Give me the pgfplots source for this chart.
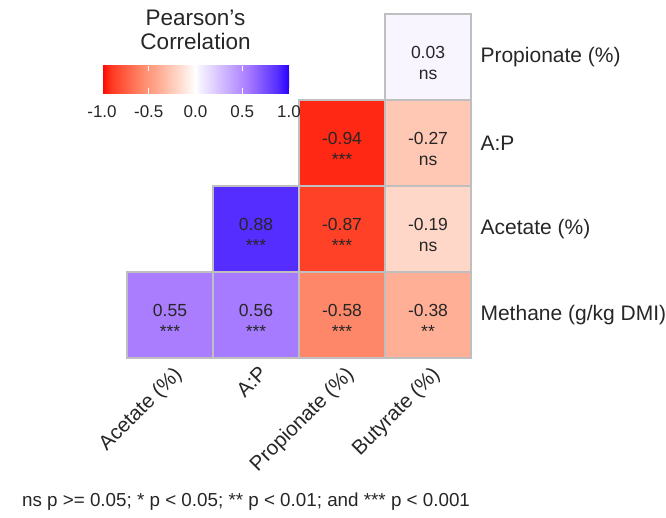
\documentclass[border=0pt]{standalone}
\usepackage{fontspec}
\setmainfont{Liberation Sans}
\usepackage{pgfplots}
\usepackage{pgfplotstable}
\pgfplotsset{compat=1.18}

\pgfplotstableread{
x y c lab sig
3 3 0.03 0.03 ns
2 2 -0.94 -0.94 ***
3 2 -0.27 -0.27 ns
1 1 0.88 0.88 ***
2 1 -0.87 -0.87 ***
3 1 -0.19 -0.19 ns
0 0 0.55 0.55 ***
1 0 0.56 0.56 ***
2 0 -0.58 -0.58 ***
3 0 -0.38 -0.38 **
}\corrdata

\begin{document}
\begin{tikzpicture}
\begin{axis}[
  x=86pt, y=86pt,
  xmin=-0.5, xmax=3.5, ymin=-0.5, ymax=3.5,
  clip=false,
  axis line style={draw=none},
  tick style={draw=none},
  xtick={0,1,2,3},
  ytick={0,1,2,3},
  xticklabels={Acetate (\%), A:P, Propionate (\%), Butyrate (\%)},
  yticklabels={Methane (g/kg DMI), Acetate (\%), A:P, Propionate (\%)},
  yticklabel pos=right,
  xticklabel style={rotate=45, anchor=north east, font=\fontsize{20.5}{21}\selectfont, text=black!85, yshift=-3pt},
  yticklabel style={anchor=west, font=\fontsize{21}{22}\selectfont, text=black!85, xshift=6pt},
  colormap={corr}{
    rgb255(0cm)=(255,0,0);
    rgb255(6cm)=(255,40,20);
    rgb255(13cm)=(255,65,40);
    rgb255(42cm)=(255,135,105);
    rgb255(62cm)=(255,175,150);
    rgb255(73cm)=(255,200,180);
    rgb255(81cm)=(255,215,200);
    rgb255(100cm)=(255,255,255);
    rgb255(103cm)=(248,245,255);
    rgb255(155cm)=(170,125,255);
    rgb255(188cm)=(85,45,255);
    rgb255(200cm)=(40,0,255)
  },
  point meta min=-1, point meta max=1,
  colorbar horizontal,
  colorbar/width=28pt,
  colorbar style={
    at={(parent axis.north west)}, anchor=north west,
    xshift=-25pt, yshift=-43pt,
    width=187pt, height=28pt,
    axis line style={draw=none},
    xtick={-1,-0.5,0,0.5,1},
    xticklabels={-1.0,-0.5,0.0,0.5,1.0},
    xtick pos=both, xticklabel pos=lower,
    tick align=inside,
    major tick length=5.5pt,
    tick style={draw=white, line width=1pt},
    xticklabel style={font=\fontsize{17}{17}\selectfont, text=black!85, yshift=-9pt},
    title={Pearson\symbol{39}s\\Correlation},
    title style={align=center, font=\fontsize{22.5}{24}\selectfont, text=black!85, at={(0.5,1)}, anchor=south, yshift=6pt},
  },
]
\addplot[
  scatter, only marks, mark=square*, mark size=43pt,
  point meta=explicit,
  scatter/use mapped color={draw=gray!50, fill=mapped color, line width=1.5pt},
] table[x=x, y=y, meta=c] {\corrdata};
\addplot[
  only marks, mark=none,
  point meta=explicit symbolic,
  nodes near coords,
  every node near coord/.append style={anchor=base, yshift=-1.5pt, font=\fontsize{17.5}{18}\selectfont, text=black!85},
] table[x=x, y=y, meta=lab] {\corrdata};
\addplot[
  only marks, mark=none,
  point meta=explicit symbolic,
  nodes near coords,
  every node near coord/.append style={anchor=base, yshift=-22.5pt, font=\fontsize{17.5}{18}\selectfont, text=black!85},
] table[x=x, y=y, meta=sig] {\corrdata};
\coordinate (bl) at (axis cs:-1.977,-2.360);
\coordinate (tr) at (axis cs:5.767,3.663);
\node[font=\fontsize{18.8}{20}\selectfont, text=black!85] at (axis cs:0.884,-2.174) {ns p >= 0.05; * p < 0.05; ** p < 0.01; and *** p < 0.001};
\end{axis}
\pgfresetboundingbox
\useasboundingbox (bl) rectangle (tr);
\end{tikzpicture}
\end{document}
